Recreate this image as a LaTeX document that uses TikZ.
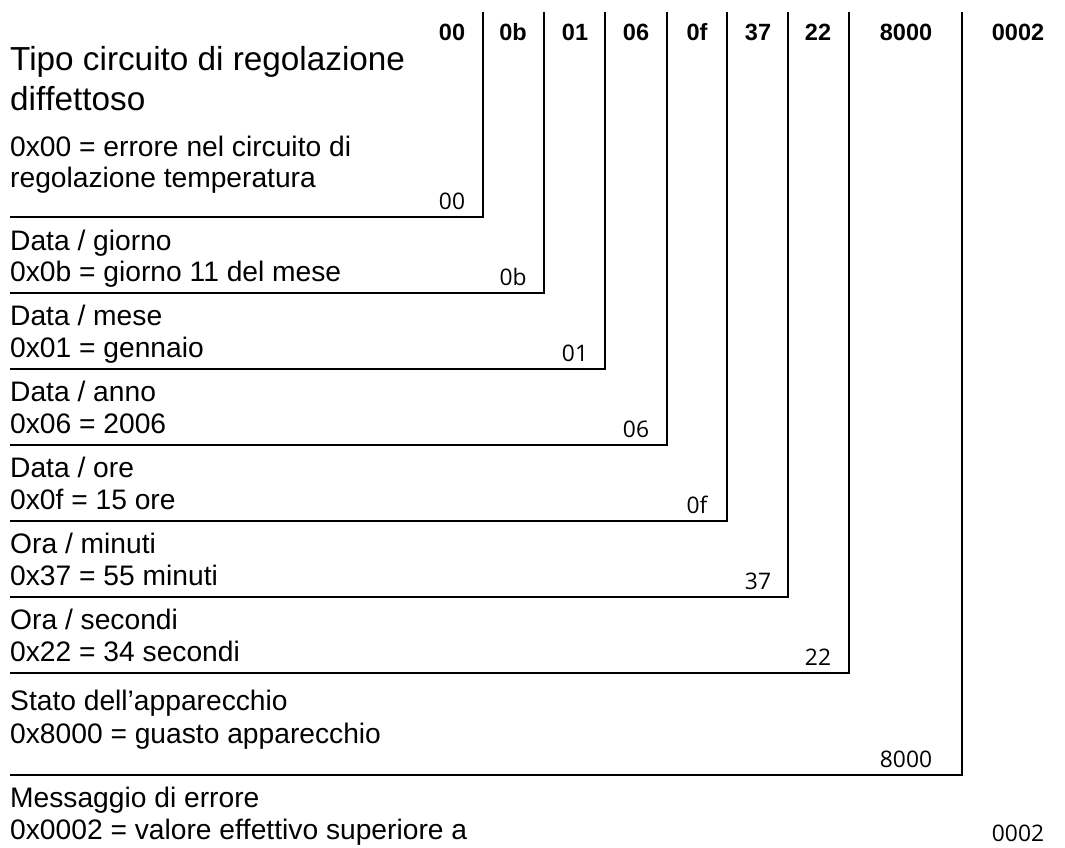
\documentclass[tikz,border=0pt]{standalone}
\usepackage{fontspec}
\setmainfont{Liberation Sans}[Ligatures=NoCommon]
\newfontfamily\valfont{Open Sans}
\newcommand{\nolig}{\kern0pt }
\begin{document}
\begin{tikzpicture}[x=1pt,y=-1pt,
  body/.style={anchor=base west,inner sep=0pt,font=\fontsize{28.2}{30}\selectfont},
  titletext/.style={anchor=base west,inner sep=0pt,font=\fontsize{33.3}{38}\selectfont},
  hdr/.style={anchor=base,inner sep=0pt,font=\fontsize{23.5}{26}\selectfont\bfseries},
  val/.style={anchor=base,inner sep=0pt,font=\valfont\fontsize{22.8}{26}\selectfont},
  bracket/.style={line width=2.6pt,line join=miter}]
\useasboundingbox (0,0) rectangle (1065,848);
% header labels
\foreach \n/\x/\t in {1/452/00,2/513/0b,3/575/01,4/636/06,5/697/0f,6/758/37,7/818/22,8/906/8000,9/1018/0002}
  \node[hdr] (h\n) at (\x,41) {\t};
% brackets
\foreach \n/\x/\b in {1/483/217,2/544/293,3/605/369,4/667/445,5/727/521,6/788/597,7/849/673,8/962/775}{
  \coordinate (t\n) at (\x,12);
  \coordinate (e\n) at (10,\b);
  \draw[bracket] (t\n) |- (e\n);
}
% value labels
\foreach \n/\b/\t in {1/217/00,2/293/0b,3/369/01,4/445/06,5/521/0f,6/597/37,7/673/22,8/775/8000}
  \node[val] (v\n) at (h\n.base |- 0,\b-8) {\t};
\node[val] (v9) at (h9.base |- 0,841) {0002};
% texts
\node[titletext] (ta) at (10,71) {Tipo circuito di regolazione};
\node[titletext] (tb) at (10,111) {dif\nolig fettoso};
\node[body] (r1a) at (10,157) {0x00 = errore nel circuito di};
\node[body] (r1b) at (10,187) {regolazione temperatura};
\node[body] (r2a) at (10,250) {Data / giorno};
\node[body] (r2b) at (10,281) {0x0b = giorno 11 del mese};
\node[body] (r3a) at (10,325) {Data / mese};
\node[body] (r3b) at (10,357) {0x01 = gennaio};
\node[body] (r4a) at (10,401) {Data / anno};
\node[body] (r4b) at (10,433) {0x06 = 2006};
\node[body] (r5a) at (10,477) {Data / ore};
\node[body] (r5b) at (10,509) {0x0f = 15 ore};
\node[body] (r6a) at (10,553) {Ora / minuti};
\node[body] (r6b) at (10,585) {0x37 = 55 minuti};
\node[body] (r7a) at (10,629) {Ora / secondi};
\node[body] (r7b) at (10,661) {0x22 = 34 secondi};
\node[body] (r8a) at (10,710) {Stato dell’apparecchio};
\node[body] (r8b) at (10,743) {0x8000 = guasto apparecchio};
\node[body] (r9a) at (10,807) {Messaggio di errore};
\node[body] (r9b) at (10,839) {0x0002 = valore ef\nolig fettivo superiore a};
\end{tikzpicture}
\end{document}
